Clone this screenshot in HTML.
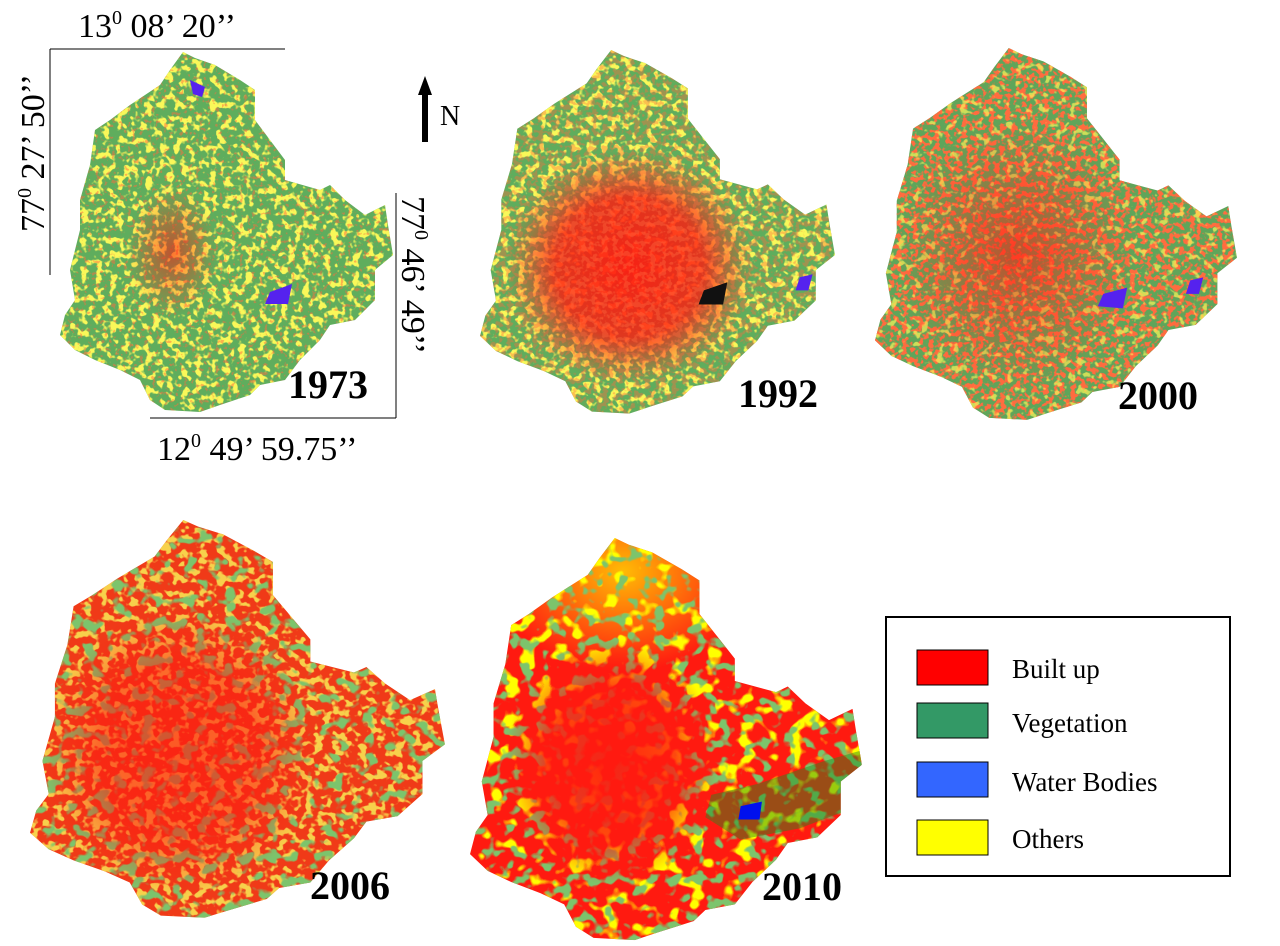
<!DOCTYPE html>
<html><head><meta charset="utf-8"><style>
html,body{margin:0;padding:0;background:#fff;}
svg{display:block;}
text{font-family:"Liberation Serif",serif;}
</style></head><body>
<svg width="1280" height="946" viewBox="0 0 1280 946" xmlns="http://www.w3.org/2000/svg">
<defs>
<clipPath id="shape" clipPathUnits="userSpaceOnUse">
<polygon points="123,0 135,6 155,13 180,28 195,38 195,68 210,88 225,108 225,128 260,138 270,133 285,148 305,163 325,153 328,173 333,203 315,218 315,248 295,268 270,273 260,288 240,308 225,328 200,333 190,343 160,353 140,360 105,358 90,348 80,328 60,318 35,308 15,298 0,283 5,263 15,248 10,218 20,178 20,148 30,113 35,78 50,68 70,53 85,43 100,33 110,18"/>
</clipPath>
<filter id="y40" x="0" y="0" width="100%" height="100%"><feTurbulence type="fractalNoise" baseFrequency="0.14" numOctaves="2" seed="3"/><feColorMatrix type="matrix" values="0 0 0 0 0.95 0 0 0 0 0.94 0 0 0 0 0.1 9 0 0 0 -4.6"/></filter>
<filter id="y20" x="0" y="0" width="100%" height="100%"><feTurbulence type="fractalNoise" baseFrequency="0.14" numOctaves="2" seed="7"/><feColorMatrix type="matrix" values="0 0 0 0 0.95 0 0 0 0 0.94 0 0 0 0 0.1 9 0 0 0 -5.2"/></filter>
<filter id="r50" x="0" y="0" width="100%" height="100%"><feTurbulence type="fractalNoise" baseFrequency="0.2" numOctaves="2" seed="11"/><feColorMatrix type="matrix" values="0 0 0 0 1 0 0 0 0 0.15 0 0 0 0 0.05 9 0 0 0 -4.3"/></filter>
<filter id="r20" x="0" y="0" width="100%" height="100%"><feTurbulence type="fractalNoise" baseFrequency="0.25" numOctaves="2" seed="13"/><feColorMatrix type="matrix" values="0 0 0 0 1 0 0 0 0 0.15 0 0 0 0 0.05 9 0 0 0 -5.3"/></filter>
<filter id="g30" x="0" y="0" width="100%" height="100%"><feTurbulence type="fractalNoise" baseFrequency="0.09" numOctaves="2" seed="5"/><feColorMatrix type="matrix" values="0 0 0 0 0.2 0 0 0 0 0.55 0 0 0 0 0.15 9 0 0 0 -5.0"/></filter>
<filter id="y30b" x="0" y="0" width="100%" height="100%"><feTurbulence type="fractalNoise" baseFrequency="0.07" numOctaves="2" seed="9"/><feColorMatrix type="matrix" values="0 0 0 0 1 0 0 0 0 1 0 0 0 0 0 9 0 0 0 -5.0"/></filter>
<radialGradient id="redc"><stop offset="0" stop-color="#ff1a10" stop-opacity="0.95"/><stop offset="0.6" stop-color="#ff1a10" stop-opacity="0.8"/><stop offset="1" stop-color="#ff1a10" stop-opacity="0"/></radialGradient>
<radialGradient id="redw"><stop offset="0" stop-color="#ff1a10" stop-opacity="0.6"/><stop offset="1" stop-color="#ff1a10" stop-opacity="0"/></radialGradient>
<radialGradient id="yelw"><stop offset="0" stop-color="#ffff00" stop-opacity="0.7"/><stop offset="1" stop-color="#ffff00" stop-opacity="0"/></radialGradient>
</defs>

<!-- 1973 -->
<g transform="translate(60,52)"><g clip-path="url(#shape)">
<rect width="340" height="365" fill="#5fad5d"/>
<rect width="340" height="365" filter="url(#y40)"/>
<rect width="340" height="365" filter="url(#r20)" opacity="0.5"/>
<ellipse cx="112" cy="200" rx="45" ry="65" fill="url(#redw)"/>
<polygon points="210,240 232,232 228,252 205,252" fill="#5522ee"/>
<polygon points="290,270 302,265 298,285 285,285" fill="#5522ee"/>
<polygon points="130,28 145,35 142,45 133,42" fill="#5522ee"/>
</g></g>

<!-- 1992 -->
<g transform="translate(480,50) scale(1.066,1.01)"><g clip-path="url(#shape)">
<rect width="340" height="365" fill="#5fad5d"/>
<rect width="340" height="365" filter="url(#y40)"/>
<ellipse cx="140" cy="215" rx="115" ry="115" fill="url(#redc)"/>
<rect width="340" height="365" filter="url(#r50)" opacity="0.4"/>
<polygon points="210,238 232,230 228,252 205,252" fill="#111"/>
<polygon points="300,225 312,222 308,238 296,238" fill="#5522ee"/>
</g></g>

<!-- 2000 -->
<g transform="translate(875,48) scale(1.087,1.033)"><g clip-path="url(#shape)">
<rect width="340" height="365" fill="#5fa55a"/>
<rect width="340" height="365" filter="url(#r50)"/>
<rect width="340" height="365" filter="url(#y20)" opacity="0.7"/>
<ellipse cx="130" cy="200" rx="110" ry="130" fill="url(#redw)"/>
<polygon points="210,238 232,232 228,252 205,250" fill="#5522ee"/>
<polygon points="290,225 302,222 298,238 286,238" fill="#5522ee"/>
</g></g>

<!-- 2006 -->
<g transform="translate(30,520) scale(1.246,1.105)"><g clip-path="url(#shape)">
<rect width="340" height="365" fill="#f03a18"/>
<rect width="340" height="365" filter="url(#y40)" opacity="0.8"/>
<rect width="340" height="365" filter="url(#g30)"/>
<ellipse cx="120" cy="210" rx="110" ry="130" fill="url(#redc)" opacity="0.7"/>
</g></g>

<!-- 2010 -->
<g transform="translate(470,538) scale(1.177,1.117)"><g clip-path="url(#shape)">
<rect width="340" height="365" fill="#ff1a10"/>
<rect width="340" height="365" filter="url(#y30b)"/>
<ellipse cx="130" cy="30" rx="110" ry="90" fill="url(#yelw)"/>
<rect width="340" height="365" filter="url(#g30)"/>
<ellipse cx="120" cy="200" rx="90" ry="110" fill="url(#redc)"/>
<polygon points="205,230 245,220 300,200 333,190 330,240 280,260 230,270 200,250" fill="#1e8c1e" opacity="0.45"/>
<polygon points="230,240 248,236 246,252 228,252" fill="#0010ee"/>
</g></g>

<!-- 1973 frame lines -->
<line x1="50" y1="49" x2="285" y2="49" stroke="#000" stroke-width="1"/>
<line x1="50" y1="49" x2="50" y2="275" stroke="#000" stroke-width="1"/>
<line x1="396" y1="193" x2="396" y2="418" stroke="#000" stroke-width="1"/>
<line x1="150" y1="418" x2="396" y2="418" stroke="#000" stroke-width="1"/>
<text x="78" y="37" font-size="34">13<tspan font-size="20" dy="-13">0</tspan><tspan dy="13"> 08’ 20’’</tspan></text>
<text transform="translate(44,232) rotate(-90)" font-size="34">77<tspan font-size="20" dy="-13">0</tspan><tspan dy="13"> 27’ 50’’</tspan></text>
<text transform="translate(402,196) rotate(90)" font-size="34">77<tspan font-size="20" dy="-13">0</tspan><tspan dy="13"> 46’ 49’’</tspan></text>
<text x="157" y="460" font-size="34">12<tspan font-size="20" dy="-13">0</tspan><tspan dy="13"> 49’ 59.75’’</tspan></text>
<!-- north arrow -->
<rect x="422" y="92" width="6" height="50" fill="#000"/>
<polygon points="418,95 425,76 432,95" fill="#000"/>
<text x="440" y="125" font-size="28">N</text>

<text x="288" y="398" font-size="40" font-weight="bold">1973</text>
<text x="738" y="407" font-size="40" font-weight="bold">1992</text>
<text x="1118" y="409" font-size="40" font-weight="bold">2000</text>
<text x="310" y="899" font-size="40" font-weight="bold">2006</text>
<text x="762" y="900" font-size="40" font-weight="bold">2010</text>

<!-- legend -->
<rect x="886" y="617" width="344" height="259" fill="#fff" stroke="#000" stroke-width="2"/>
<rect x="917" y="650" width="71" height="35" fill="#ff0000" stroke="#000"/>
<rect x="917" y="703" width="71" height="35" fill="#339966" stroke="#000"/>
<rect x="917" y="762" width="71" height="35" fill="#3366ff" stroke="#000"/>
<rect x="917" y="820" width="71" height="35" fill="#ffff00" stroke="#000"/>
<text x="1012" y="678" font-size="27">Built up</text>
<text x="1012" y="732" font-size="27">Vegetation</text>
<text x="1012" y="791" font-size="27">Water Bodies</text>
<text x="1012" y="848" font-size="27">Others</text>
</svg>
</body></html>
